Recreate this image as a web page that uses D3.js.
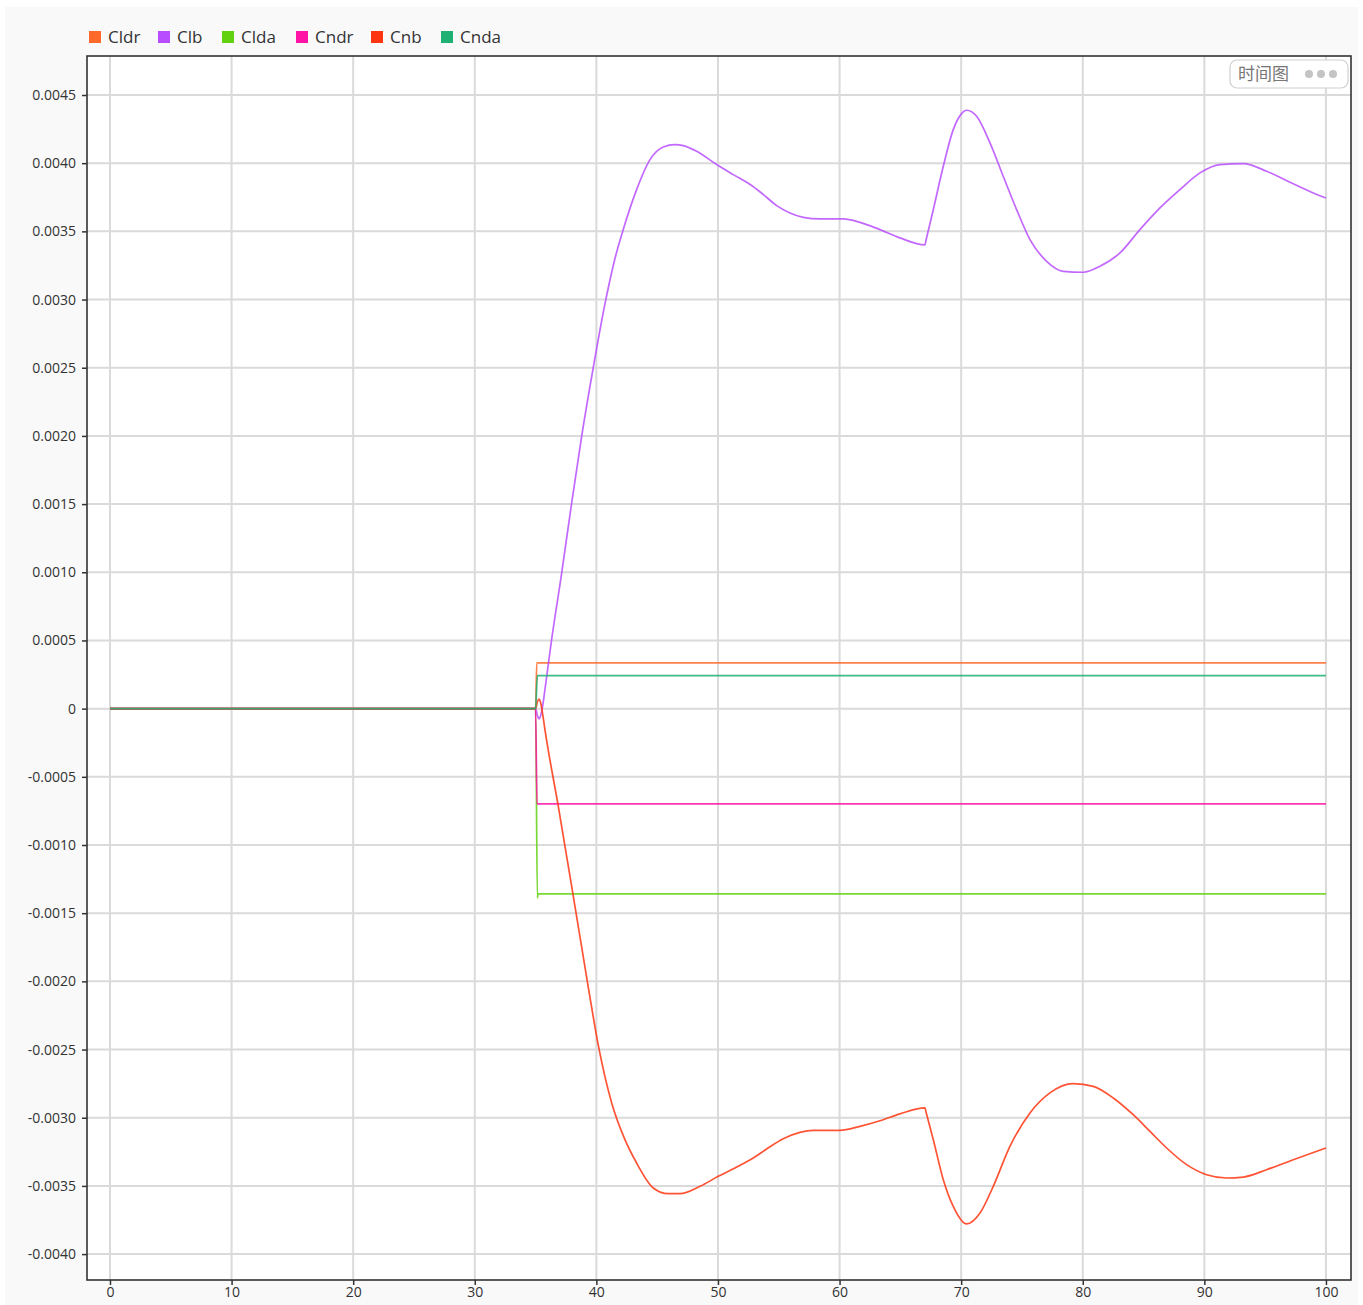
<!DOCTYPE html>
<html>
<head>
<meta charset="utf-8">
<script src="https://cdn.jsdelivr.net/npm/d3@7"></script>
<style>
  html, body { margin: 0; padding: 0; background: #ffffff; }
  svg { display: block; }
</style>
</head>
<body>
<svg id="chart" width="1363" height="1305"></svg>
<script>
// Series names and colours
const seriesNames = ["Cldr", "Clb", "Clda", "Cndr", "Cnb", "Cnda"];
const seriesColors = ["#ff6a2b", "#b84dff", "#62d10f", "#ff14a6", "#ff3512", "#1fb073"];

// Axis ticks
const xTicks = [0, 10, 20, 30, 40, 50, 60, 70, 80, 90, 100];
const yTicks = [-0.0040, -0.0035, -0.0030, -0.0025, -0.0020, -0.0015, -0.0010, -0.0005,
                0, 0.0005, 0.0010, 0.0015, 0.0020, 0.0025, 0.0030, 0.0035, 0.0040, 0.0045];

// Time series values: [time, coefficient]
const cldr = [[0, 0], [35, 0], [35.1, 0.000336], [100, 0.000336]];
const clda = [[0, 0], [35, 0], [35.15, -0.00139], [35.2, -0.001358], [100, -0.001358]];
const cndr = [[0, 0], [35, 0], [35.12, -0.000699], [100, -0.000699]];
const cnda = [[0, 0], [35, 0], [35.15, 0.000242], [100, 0.000242]];
const clb = [
  [0, 0], [35, 0], [35.15, -0.00005], [35.3, -0.000075], [35.45, -0.00004], [35.6, 0.00003],
  [35.77, 0.000139], [36.32, 0.000506], [37.15, 0.000995], [37.97, 0.001509], [38.79, 0.001997],
  [39.74, 0.002499], [40.71, 0.00297], [41.5, 0.00329], [42.21, 0.003513], [43.31, 0.003806],
  [44.41, 0.004026], [45.5, 0.004119], [46.46, 0.004136], [47.15, 0.004129], [48.25, 0.004087],
  [49.89, 0.00399], [51.26, 0.003916], [52.77, 0.003836], [53.73, 0.00377], [54.83, 0.003689],
  [55.92, 0.003635], [57.02, 0.003603], [58.39, 0.003591], [60.3, 0.003591], [61.68, 0.003566],
  [63.32, 0.003513], [64.97, 0.003452], [67.02, 0.003401], [67.12, 0.003438], [67.71, 0.00366],
  [68.53, 0.003977], [69.35, 0.004246], [70.0, 0.00436], [70.45, 0.004388], [71.27, 0.004344],
  [72.37, 0.004149], [73.46, 0.003904], [74.56, 0.00366], [75.66, 0.00344], [77.03, 0.00328],
  [78.4, 0.003207], [80.04, 0.0032], [81.41, 0.003244], [83.06, 0.003342], [84.7, 0.003513],
  [86.35, 0.003672], [87.99, 0.003806], [89.64, 0.003929], [91.28, 0.00399], [93.2, 0.003997],
  [95.12, 0.003941], [97.04, 0.00386], [98.96, 0.003782], [100, 0.003745]
];
const cnb = [
  [0, 0], [35, 0], [35.15, 0.00005], [35.3, 0.00007], [35.45, 0.00003], [35.6, -0.00005],
  [35.77, -0.000154], [36.87, -0.000717], [38.24, -0.00145], [39.33, -0.00204], [40.16, -0.00247],
  [41.26, -0.002892], [42.35, -0.003161], [43.31, -0.003332], [44.68, -0.003515], [45.91, -0.003557],
  [46.88, -0.003557], [48.52, -0.003503], [50.02, -0.00343], [51.54, -0.003361], [52.9, -0.003295],
  [54.0, -0.003229], [55.37, -0.003154], [56.74, -0.003107], [57.84, -0.003093], [60.03, -0.003093],
  [61.68, -0.003063], [63.32, -0.003022], [64.97, -0.002972], [67.02, -0.002928], [67.12, -0.002962],
  [67.71, -0.003161], [68.53, -0.003454], [69.35, -0.00365], [70.45, -0.003779], [71.55, -0.003699],
  [72.64, -0.003503], [74.01, -0.00321], [75.66, -0.002965], [77.3, -0.002818], [79.22, -0.00275],
  [80.86, -0.00277], [82.51, -0.002855], [84.15, -0.002978], [85.53, -0.0031], [86.9, -0.003222],
  [88.54, -0.003344], [90.19, -0.003418], [91.83, -0.003442], [93.2, -0.003435], [95.12, -0.003381],
  [97.31, -0.003308], [100, -0.003222]
];
const seriesData = [cldr, clb, clda, cndr, cnb, cnda];

const svg = d3.select("#chart");
const W = 1363, H = 1305;

// Panel background
svg.append("rect").attr("x", 5).attr("y", 7).attr("width", W - 10).attr("height", H - 7)
  .attr("fill", "#f9f9f9");

const plot = { left: 87, top: 56, right: 1351, bottom: 1280 };

const x = d3.scaleLinear().domain([-1.89, 102.06]).range([plot.left, plot.right]);
const y = d3.scaleLinear().domain([-0.00419, 0.004786]).range([plot.bottom, plot.top]);

// Plot area
svg.append("rect")
  .attr("x", plot.left).attr("y", plot.top)
  .attr("width", plot.right - plot.left).attr("height", plot.bottom - plot.top)
  .attr("fill", "#ffffff");

// Grid
const grid = svg.append("g");
grid.selectAll("line.gx").data(xTicks).join("line")
  .attr("x1", d => x(d)).attr("x2", d => x(d))
  .attr("y1", plot.top).attr("y2", plot.bottom)
  .attr("stroke", "#dadada").attr("stroke-width", 2);
grid.selectAll("line.gy").data(yTicks).join("line")
  .attr("x1", plot.left).attr("x2", plot.right)
  .attr("y1", d => y(d)).attr("y2", d => y(d))
  .attr("stroke", "#dadada").attr("stroke-width", 2);

// Series lines
const line = d3.line().x(d => x(d[0])).y(d => y(d[1])).curve(d3.curveMonotoneX);
const lines = svg.append("g");
seriesData.forEach((data, i) => {
  lines.append("path")
    .datum(data)
    .attr("d", line)
    .attr("fill", "none")
    .attr("stroke", seriesColors[i])
    .attr("stroke-width", 1.7)
    .attr("stroke-opacity", 0.85)
    .attr("stroke-linejoin", "round");
});

// Axes
const fmt = d => d === 0 ? "0" : d3.format(".4f")(d).replace("−", "-");
const yAxis = svg.append("g")
  .attr("transform", `translate(${plot.left},0)`)
  .call(d3.axisLeft(y).tickValues(yTicks).tickFormat(fmt).tickSize(5).tickPadding(6));
const xAxis = svg.append("g")
  .attr("transform", `translate(0,${plot.bottom})`)
  .call(d3.axisBottom(x).tickValues(xTicks).tickFormat(d3.format("d")).tickSize(5).tickPadding(2));
[xAxis, yAxis].forEach(a => {
  a.select(".domain").remove();
  a.selectAll(".tick line").attr("stroke", "#333").attr("stroke-width", 1.5);
  a.selectAll(".tick text").attr("fill", "#333")
    .style("font-family", "'Open Sans', 'Noto Sans', sans-serif").style("font-size", "14px");
});

// Frame
svg.append("rect")
  .attr("x", plot.left).attr("y", plot.top)
  .attr("width", plot.right - plot.left).attr("height", plot.bottom - plot.top)
  .attr("fill", "none").attr("stroke", "#333").attr("stroke-width", 1.6);

// Legend
const legendX = [89, 158, 222, 296, 371, 441];
const legend = svg.append("g");
seriesNames.forEach((name, i) => {
  const g = legend.append("g").attr("transform", `translate(${legendX[i]},31)`);
  g.append("rect").attr("width", 12).attr("height", 12).attr("fill", seriesColors[i]);
  g.append("text").attr("x", 19).attr("y", 12)
    .attr("fill", "#333")
    .style("font-family", "'Open Sans', 'Noto Sans', sans-serif").style("font-size", "17px")
    .text(name);
});

// View selector button
const btn = svg.append("g").attr("transform", "translate(1230,60)");
btn.append("rect").attr("width", 118).attr("height", 28).attr("rx", 7)
  .attr("fill", "#ffffff").attr("stroke", "#cfcfcf").attr("stroke-width", 1.2);
btn.append("text").attr("x", 8).attr("y", 20)
  .attr("fill", "#777")
  .style("font-family", "'Noto Sans CJK SC', sans-serif").style("font-size", "17px")
  .text("时间图");
[79, 91, 103].forEach(cx => {
  btn.append("circle").attr("cx", cx).attr("cy", 14).attr("r", 4).attr("fill", "#c4c4c4");
});
</script>
</body>
</html>
